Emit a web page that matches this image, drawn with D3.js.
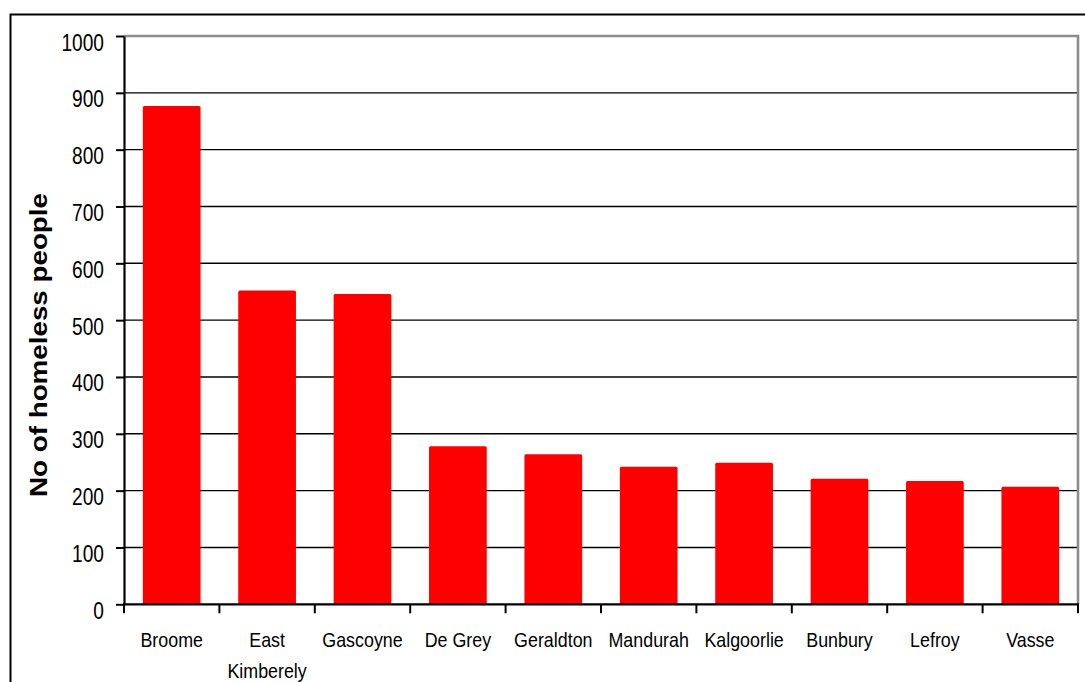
<!DOCTYPE html>
<html>
<head>
<meta charset="utf-8">
<script src="https://cdn.jsdelivr.net/npm/d3@7"></script>
<style>
  html, body { margin: 0; padding: 0; background: #fff; }
  svg { display: block; font-family: "Liberation Sans", Arial, sans-serif; }
</style>
</head>
<body>
<svg id="chart" width="1085" height="682"></svg>
<script>
const categories = ["Broome", "East Kimberely", "Gascoyne", "De Grey", "Geraldton", "Mandurah", "Kalgoorlie", "Bunbury", "Lefroy", "Vasse"];
const values = [877, 552, 546, 278, 264, 242, 249, 221, 217, 207];
const yTicks = [0, 100, 200, 300, 400, 500, 600, 700, 800, 900, 1000];
const yTitle = "No of homeless people";

const svg = d3.select("#chart");
const W = 1085, H = 682;
const mLeft = 124, mRight = 1078, mTop = 36, mBottom = 604.3;

svg.append("rect").attr("width", W).attr("height", H).attr("fill", "#fff");
// outer chart border
svg.append("rect").attr("x", 10.5).attr("y", 14.5).attr("width", W + 20).attr("height", H + 20)
  .attr("fill", "none").attr("stroke", "#000").attr("stroke-width", 2);

const x = d3.scaleBand().domain(categories).range([mLeft, mRight])
  .paddingInner(0.395).paddingOuter(0.1975);
const y = d3.scaleLinear().domain([0, 1000]).range([mBottom, mTop]);

// gridlines
svg.append("g").selectAll("line").data(yTicks.filter(t => t > 0 && t < 1000)).join("line")
  .attr("x1", mLeft).attr("x2", mRight)
  .attr("y1", d => y(d)).attr("y2", d => y(d))
  .attr("stroke", "#000").attr("stroke-width", 1.4);

// plot border top/right (gray)
svg.append("path")
  .attr("d", `M${mLeft},${y(1000)}H${mRight}V${mBottom}`)
  .attr("fill", "none").attr("stroke", "#8c8c8c").attr("stroke-width", 2.6);

// bars
svg.append("g").selectAll("rect").data(values).join("rect")
  .attr("x", (d, i) => x(categories[i]))
  .attr("width", x.bandwidth())
  .attr("y", d => y(d))
  .attr("height", d => y(0) - y(d))
  .attr("fill", "#ff0000")
  .attr("rx", 1.5);

// y axis
const yAxis = svg.append("g").attr("transform", `translate(${mLeft},0)`)
  .call(d3.axisLeft(y).tickValues(yTicks).tickFormat(d3.format("d"))
    .tickSize(8).tickPadding(12).tickSizeOuter(0));
yAxis.select(".domain").attr("stroke", "#000").attr("stroke-width", 2.2);
yAxis.selectAll(".tick line").attr("stroke", "#000").attr("stroke-width", 2);
yAxis.selectAll(".tick text")
  .attr("font-size", 24.5).attr("fill", "#000")
  .attr("font-family", "Liberation Sans, Arial, sans-serif")
  .attr("dy", 14)
  .each(function() {
    const t = d3.select(this);
    const w = this.getComputedTextLength();
    t.attr("textLength", w * 0.78).attr("lengthAdjust", "spacingAndGlyphs");
  });

// x axis with ticks at category boundaries
const xAxisG = svg.append("g");
xAxisG.append("line").attr("x1", mLeft - 1).attr("x2", mRight + 1)
  .attr("y1", mBottom).attr("y2", mBottom)
  .attr("stroke", "#000").attr("stroke-width", 2.2);
const step = x.step();
const bounds = d3.range(categories.length + 1).map(i => x(categories[0]) - x.step() * x.paddingOuter() + i * step);
xAxisG.selectAll("line.tk").data(bounds).join("line").attr("class", "tk")
  .attr("x1", d => d).attr("x2", d => d)
  .attr("y1", mBottom).attr("y2", mBottom + 9)
  .attr("stroke", "#000").attr("stroke-width", 2);

// category labels
const labelLines = categories.map(c => c === "East Kimberely" ? ["East", "Kimberely"] : [c]);
categories.forEach((c, i) => {
  const cx = x(c) + x.bandwidth() / 2;
  labelLines[i].forEach((ln, j) => {
    const t = svg.append("text")
      .attr("x", cx).attr("y", mBottom + 42.5 + j * 31)
      .attr("text-anchor", "middle")
      .attr("font-size", 21).attr("fill", "#000")
      .text(ln);
    const w = t.node().getComputedTextLength();
    t.attr("textLength", w * 0.85).attr("lengthAdjust", "spacingAndGlyphs");
  });
});

// y title
const yt = svg.append("text")
  .attr("transform", `translate(46.5,345) rotate(-90)`)
  .attr("text-anchor", "middle")
  .attr("font-size", 24).attr("font-weight", "bold").attr("fill", "#000")
  .text(yTitle);
yt.attr("textLength", 304).attr("lengthAdjust", "spacingAndGlyphs");
</script>
</body>
</html>
